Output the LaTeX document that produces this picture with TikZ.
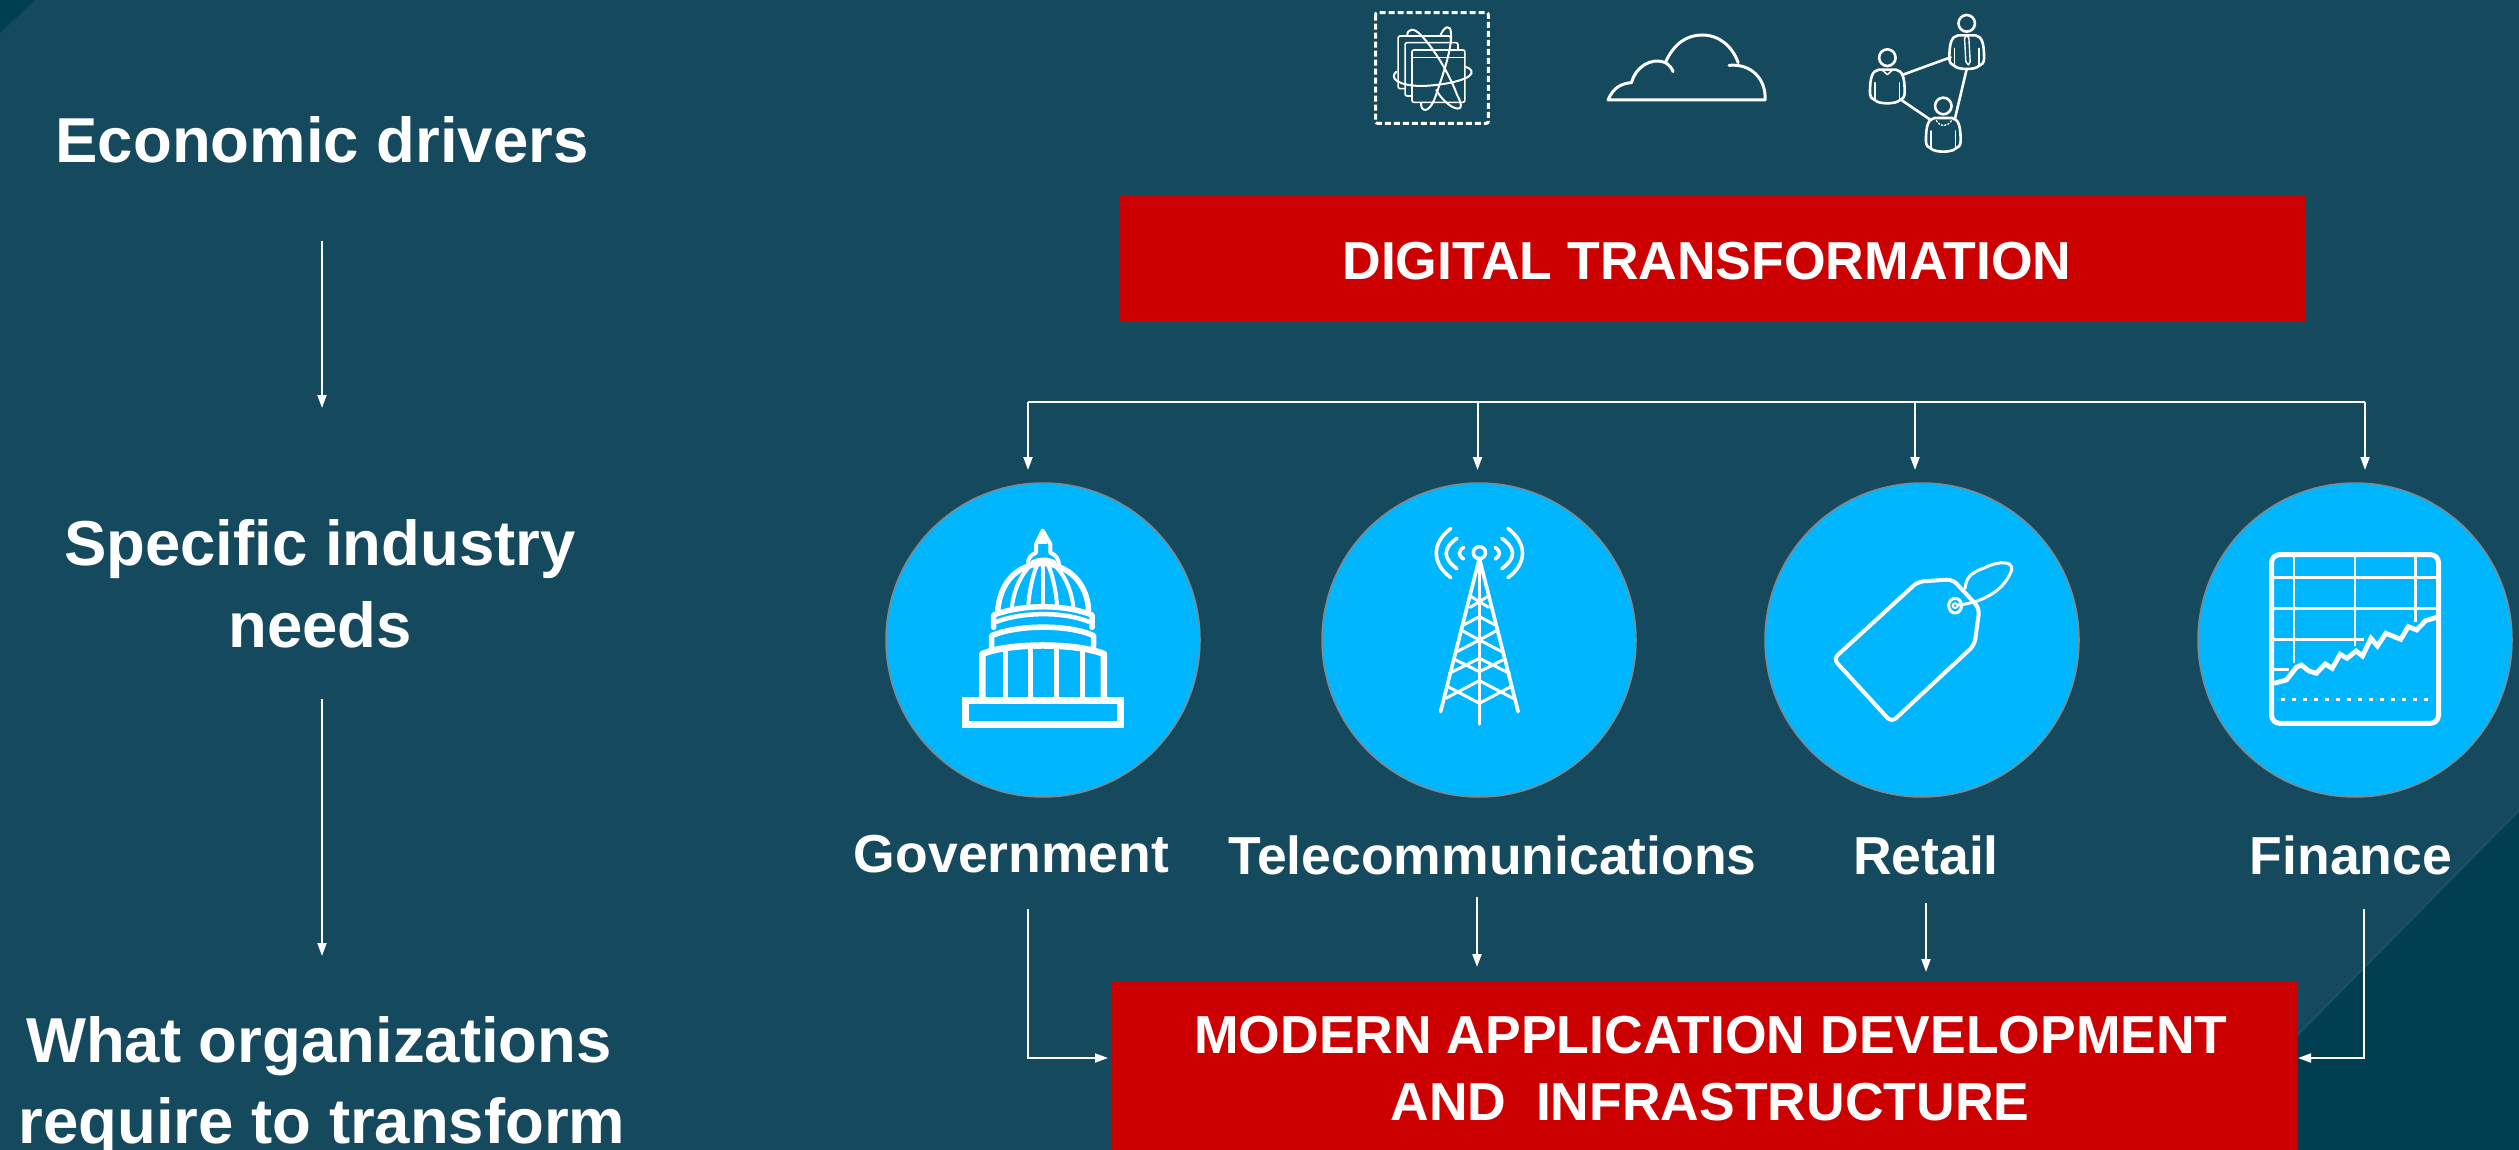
\documentclass[tikz,border=0pt]{standalone}
\usepackage{fontspec}
\setmainfont{Liberation Sans}
\usetikzlibrary{arrows.meta}
\definecolor{bgmain}{HTML}{14495E}
\definecolor{bgdark}{HTML}{003F52}
\definecolor{bgedge}{HTML}{1D4F63}
\definecolor{redbox}{HTML}{CC0000}
\definecolor{bluecirc}{HTML}{00B6FF}
\definecolor{circedge}{HTML}{7F8A90}
\tikzset{
  head/.style={line width=2pt,draw=white,-{Triangle[length=13pt,width=9pt,fill=white]}},
  plainline/.style={line width=2pt,draw=white},
  bigtext/.style={text=white,inner sep=0pt,align=center,font=\bfseries\fontsize{63.5}{81}\selectfont},
  midtext/.style={text=white,inner sep=0pt,anchor=base,font=\bfseries\fontsize{53.5}{68}\selectfont},
  redrect/.style={fill=redbox,draw=none},
  bluedisc/.style={circle,fill=bluecirc,draw=circedge,line width=1.5pt,minimum size=314pt,inner sep=0pt},
  ic/.style={draw=white,line width=#1,line cap=round,line join=round},
  ic/.default=3pt
}
\begin{document}
\begin{tikzpicture}[x=1pt,y=-1pt]
\useasboundingbox (0,0) rectangle (2519,1150);
% background
\fill[bgmain] (0,0) rectangle (2519,1150);
\fill[bgdark] (0,0) -- (35,0) -- (0,33) -- cycle;
\fill[bgdark] (2519,810) -- (2519,1150) -- (2184,1150) -- cycle;
\draw[bgedge,line width=2.5pt] (2519,810) -- (2184,1150);
% red boxes
\node[redrect,minimum width=1186pt,minimum height=127pt,inner sep=0pt,anchor=north west] (digital) at (1120,195) {};
\node[redrect,minimum width=1186.5pt,minimum height=168pt,inner sep=0pt,anchor=north west] (modern) at (1111,982) {};
\node[midtext,anchor=base] (digitaltext) at (1707,280) {DIGITAL TRANSFORMATION};
\node[midtext,anchor=base] (moderntext1) at (1711,1053) {MODERN APPLICATION DEVELOPMENT};
\node[midtext,anchor=base] (moderntext2) at (1710,1120) {AND\ \ INFRASTRUCTURE};
% left column
\node[bigtext,anchor=base] (econ) at (322,163) {Economic drivers};
\node[bigtext,anchor=base] (spec) at (320,565) {Specific industry};
\node[bigtext,anchor=base] (spec2) at (320,647) {needs};
\node[bigtext,anchor=base] (what) at (319,1062) {What organizations};
\node[bigtext,anchor=base] (what2) at (322,1143) {require to transform};
\coordinate (a1s) at (322,241); \coordinate (a1e) at (322,408);
\coordinate (a2s) at (322,699); \coordinate (a2e) at (322,956);
\draw[head] (a1s) -- (a1e);
\draw[head] (a2s) -- (a2e);
% discs
\node[bluedisc] (gov) at (1043,640) {};
\node[bluedisc] (tel) at (1479,640) {};
\node[bluedisc] (ret) at (1922,640) {};
\node[bluedisc] (fin) at (2355,640) {};
% bus
\coordinate (busL) at (1028,402); \coordinate (busR) at (2365,402);
\draw[plainline] (busL) -- (busR);
\coordinate (t1) at (1028,470); \coordinate (t2) at (1477.5,470);
\coordinate (t3) at (1915,470); \coordinate (t4) at (2365,470);
\draw[head] (busL) -- (t1);
\draw[head] (1477.5,402) -- (t2);
\draw[head] (1915,402) -- (t3);
\draw[head] (busR) -- (t4);
% labels
\node[midtext] (govl) at (1011.5,872) {Government};
\node[midtext] (tell) at (1492.5,874) {Telecommunications};
\node[midtext] (retl) at (1926,874) {Retail};
\node[midtext] (finl) at (2351,874) {Finance};
% lower connectors
\coordinate (g1) at (1028,909); \coordinate (g2) at (1028,1058); \coordinate (g3) at (1108,1058);
\coordinate (f1) at (2364,909); \coordinate (f2) at (2364,1058); \coordinate (f3) at (2298,1058);
\coordinate (c1) at (1477,897); \coordinate (c2) at (1477,967);
\coordinate (r1) at (1926,903); \coordinate (r2) at (1926,972);
\draw[head] (g1) -- (g2) -- (g3);
\draw[head] (f1) -- (f2) -- (f3);
\draw[head] (c1) -- (c2);
\draw[head] (r1) -- (r2);
% government icon
\begin{scope}[shift={(860,470)},x=0.5102pt,y=-0.3333pt]
\draw[ic=7pt,line cap=butt,line join=miter] (207,691) rectangle (510,763);
\draw[ic=6.5pt] (240,680) -- (240,552) .. controls (290,518) and (425,518) .. (478,552) -- (478,680);
\foreach \xa/\ya in {285/537,334/527,385/527,437/537}{\draw[ic=5pt,line cap=butt] (\xa,680) -- (\xa,\ya);}
\draw[ic=5.5pt] (258,530) -- (258,497) .. controls (310,463) and (410,463) .. (458,497) -- (458,530);
\draw[ic=5.5pt] (262,472) -- (262,435) .. controls (320,402) and (400,402) .. (455,435) -- (455,472);
\draw[ic=4.5pt] (268,455) .. controls (320,425) and (400,425) .. (448,455);
\draw[ic=5.5pt] (270,420) .. controls (275,340) and (305,285) .. (358,280) .. controls (410,285) and (445,340) .. (448,420);
\draw[ic=4pt] (298,408) .. controls (303,350) and (318,310) .. (335,285);
\draw[ic=4pt] (330,402) .. controls (333,350) and (340,310) .. (348,282);
\draw[ic=4pt] (358,280) -- (358,400);
\draw[ic=4pt] (386,402) .. controls (383,350) and (376,310) .. (368,282);
\draw[ic=4pt] (418,408) .. controls (413,350) and (398,310) .. (381,285);
\draw[ic=4pt] (330,282) .. controls (328,265) and (335,255) .. (345,248) -- (345,222) -- (358,182) -- (373,222) -- (373,248) .. controls (383,255) and (390,265) .. (390,285);
\draw[ic=3.5pt] (337,277) .. controls (350,265) and (370,265) .. (382,277);
\fill[white] (358,182) -- (350,222) -- (367,222) -- cycle;
\end{scope}
% tower icon
\begin{scope}[shift={(860,470)},x=0.5102pt,y=-0.3333pt]
\draw[ic=3.5pt] (1214,248) ellipse [x radius=12,y radius=18];
\foreach \sgn in {1,-1}{
\begin{scope}[shift={(1214,0)},xscale=\sgn]
\draw[ic=3.6pt] (-56,175) .. controls (-94,220) and (-94,280) .. (-56,323);
\draw[ic=3.6pt] (-44,205) .. controls (-72,235) and (-72,265) .. (-44,296);
\draw[ic=3.6pt] (-31,232) .. controls (-42,245) and (-42,255) .. (-31,267);
\draw[ic=3.6pt] (0,265) -- (-76,725);
\draw[ic=3pt] (-18,378) -- (18,412);
\draw[ic=3pt] (-31,465) -- (0,440);
\draw[ic=3pt] (-36,480) -- (0,510) -- (-44,545);
\draw[ic=3pt] (-50,567) -- (0,605);
\draw[ic=3pt] (-59,610) -- (0,565);
\draw[ic=3pt] (-66,685) -- (0,632);
\draw[ic=3pt] (-64,648) -- (0,700);
\end{scope}}
\draw[ic=3.6pt] (1214,265) -- (1214,762);
\end{scope}
% tag icon
\begin{scope}[shift={(1740,470)},x=0.4968pt,y=-0.3333pt]
\draw[ic=4pt,rounded corners=6pt] (358,335) -- (428,328) -- (482,415) -- (472,525) -- (305,757) -- (188,567) -- cycle;
\draw[ic=3pt] (433,407) ellipse [x radius=13,y radius=22];
\draw[ic=2pt] (433,407) ellipse [x radius=5,y radius=7];
\draw[ic=3pt] (440,405) .. controls (500,395) and (535,350) .. (547,300) .. controls (550,272) and (520,272) .. (490,295) .. controls (460,310) and (455,330) .. (453,355);
\end{scope}
% finance icon
\begin{scope}[shift={(1740,470)},x=0.4968pt,y=-0.3333pt]
\draw[ic=2.4pt,line cap=butt] (1115,255) -- (1115,580);
\draw[ic=2.4pt,line cap=butt] (1238,255) -- (1238,528);
\draw[ic=2.4pt,line cap=butt] (1360,255) -- (1360,455);
\draw[ic=2.4pt,line cap=butt] (1072,322) -- (1403,322);
\draw[ic=2.4pt,line cap=butt] (1072,415) -- (1403,415);
\draw[ic=2.4pt,line cap=butt] (1072,508) -- (1255,508);
\draw[ic=2.4pt,line cap=butt] (1072,598) -- (1105,598);
\draw[ic=5pt,rounded corners=8pt] (1070,254) rectangle (1406,760);
\draw[ic=4.8pt,line cap=butt,line join=miter] (1075,640) -- (1100,630) -- (1120,592) -- (1130,585) -- (1145,603) -- (1160,610) -- (1178,582) -- (1192,595) -- (1208,553) -- (1222,565) -- (1240,543) -- (1253,558) -- (1270,505) -- (1283,528) -- (1300,490) -- (1330,508) -- (1345,470) -- (1362,480) -- (1380,452) -- (1403,442);
\draw[draw=white,line width=3pt,dash pattern=on 4.5pt off 6.5pt] (1088,688) -- (1392,688);
\end{scope}
% top icons
\begin{scope}[shift={(1340,0)},x=0.4337pt,y=-0.3333pt]
\draw[draw=white,line width=3pt,dash pattern=on 6pt off 3pt,rounded corners=2pt] (82,38) rectangle (342,370);
\foreach \xa/\ya/\xb/\yb in {134/108/255/266,150/128/272/288,166/150/288/307}{
  \draw[ic=1.6pt,fill=bgmain,rounded corners=2pt] (\xa,\ya) rectangle (\xb,\yb);}
\draw[ic=1.4pt] (166,172) -- (288,172);
\draw[ic=2pt] (130,215) .. controls (112,235) and (135,258) .. (190,258) .. controls (250,255) and (312,235) .. (303,212) .. controls (300,205) and (295,203) .. (288,200);
\draw[ic=2pt] (155,108) .. controls (155,85) and (170,80) .. (190,110) .. controls (215,145) and (250,215) .. (270,285) .. controls (285,320) and (280,335) .. (258,320) .. controls (245,310) and (230,290) .. (222,270);
\draw[ic=2pt] (232,105) .. controls (240,80) and (255,70) .. (256,100) .. controls (258,145) and (240,215) .. (220,290) .. controls (205,345) and (185,335) .. (187,308);
% cloud
\draw[ic=3pt] (618,300) -- (980,300) .. controls (983,240) and (950,190) .. (897,196);
\draw[ic=3pt] (618,300) .. controls (630,262) and (650,250) .. (672,248) .. controls (680,205) and (715,170) .. (750,188) .. controls (760,195) and (765,205) .. (768,215);
\draw[ic=3pt] (750,188) .. controls (770,130) and (800,105) .. (835,105) .. controls (875,105) and (905,140) .. (918,188);
% people
\foreach \hx/\hy in {1262/173,1445/70,1391/318}{
\begin{scope}[shift={(\hx,\hy)}]
\draw[ic=2.6pt] (0,0) ellipse [x radius=19,y radius=25];
\draw[ic=2.6pt] (-20,36) .. controls (-35,40) and (-40,58) .. (-40,105) .. controls (-40,118) and (-35,126) .. (-28,128) .. controls (-20,140) and (20,140) .. (28,128) .. controls (35,126) and (40,118) .. (40,105) .. controls (40,58) and (35,40) .. (20,36) -- cycle;
\draw[ic=1.5pt] (-28,75) -- (-28,128);
\draw[ic=1.5pt] (28,75) -- (28,128);
\end{scope}}
\draw[ic=1.5pt] (1250,210) -- (1262,224) -- (1274,210);
\draw[ic=1.4pt] (1445,105) -- (1440,115) -- (1443,185) -- (1449,195) -- (1453,185) -- (1450,115) -- cycle;
\draw[ic=1.4pt,dotted] (1375,362) .. controls (1385,382) and (1398,382) .. (1410,362);
\draw[ic=2.6pt] (1296,225) -- (1408,172);
\draw[ic=2.6pt] (1445,207) -- (1418,355);
\draw[ic=2.6pt] (1292,298) -- (1362,360);
\end{scope}
\end{tikzpicture}
\end{document}
